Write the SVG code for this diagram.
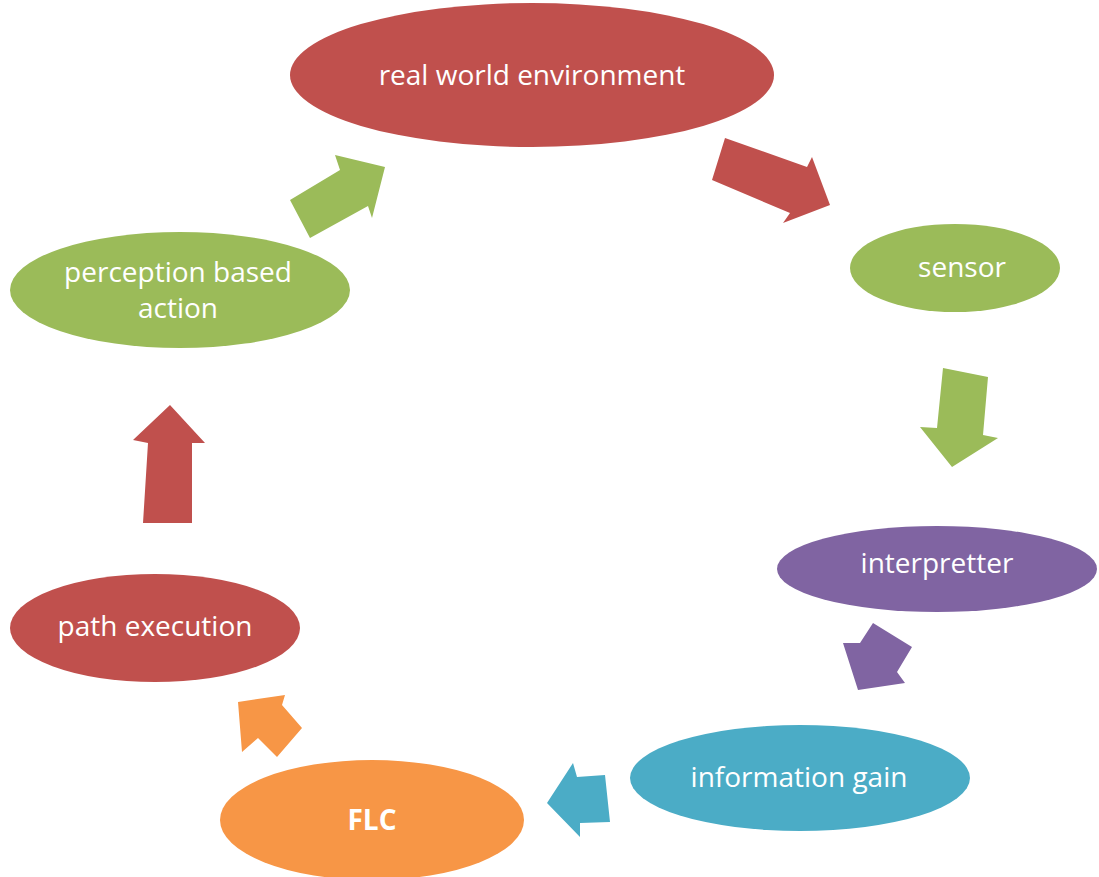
<svg xmlns="http://www.w3.org/2000/svg" width="1099" height="877" viewBox="0 0 1099 877">
  <style>
    .red { fill: #C0504D; }
    .green { fill: #9BBB59; }
    .purple { fill: #8064A2; }
    .blue { fill: #4BACC6; }
    .orange { fill: #F79646; }
    text { font-family: "Open Sans", "Liberation Sans", sans-serif; font-size: 28px; fill: #FFFFFF; text-anchor: middle; }
    .bold { font-weight: bold; }
  </style>
  <rect width="1099" height="877" fill="#FFFFFF"/>

  <g id="connectors">
    <polygon class="red" points="725,138 807,167 812,157 830,205 783,223 790,213 712,180"/>
    <polygon class="green" points="943,368 988,377 983,435 998,438 952,467 920,427 937,428"/>
    <polygon class="purple" points="873,623 912,647 897,672 905,683 858,690 843,643 860,643"/>
    <polygon class="blue" points="605,775 610,822 580,823 580,837 547,803 573,763 577,777"/>
    <polygon class="orange" points="302,728 277,757 258,738 242,752 238,702 285,695 282,705"/>
    <polygon class="red" points="192,523 192,443 205,443 170,405 133,440 148,443 143,523"/>
    <polygon class="green" points="310,238 368,206 372,218 385,167 335,155 340,170 290,200"/>
  </g>

  <g id="node-real-world">
    <ellipse class="red" cx="532" cy="75" rx="242" ry="72"/>
    <text x="532" y="85">real world environment</text>
  </g>
  <g id="node-sensor">
    <ellipse class="green" cx="955" cy="268" rx="105" ry="44"/>
    <text x="962" y="277">sensor</text>
  </g>
  <g id="node-interpretter">
    <ellipse class="purple" cx="937" cy="569" rx="160" ry="43"/>
    <text x="937" y="573">interpretter</text>
  </g>
  <g id="node-information-gain">
    <ellipse class="blue" cx="800" cy="778" rx="170" ry="53"/>
    <text x="799" y="787">information gain</text>
  </g>
  <g id="node-flc">
    <ellipse class="orange" cx="372" cy="820" rx="152" ry="60"/>
    <text class="bold" x="372" y="830">FLC</text>
  </g>
  <g id="node-path-execution">
    <ellipse class="red" cx="155" cy="628" rx="145" ry="54"/>
    <text x="155" y="636">path execution</text>
  </g>
  <g id="node-perception">
    <ellipse class="green" cx="180" cy="290" rx="170" ry="58"/>
    <text x="178" y="282">perception based</text>
    <text x="178" y="318">action</text>
  </g>
</svg>
